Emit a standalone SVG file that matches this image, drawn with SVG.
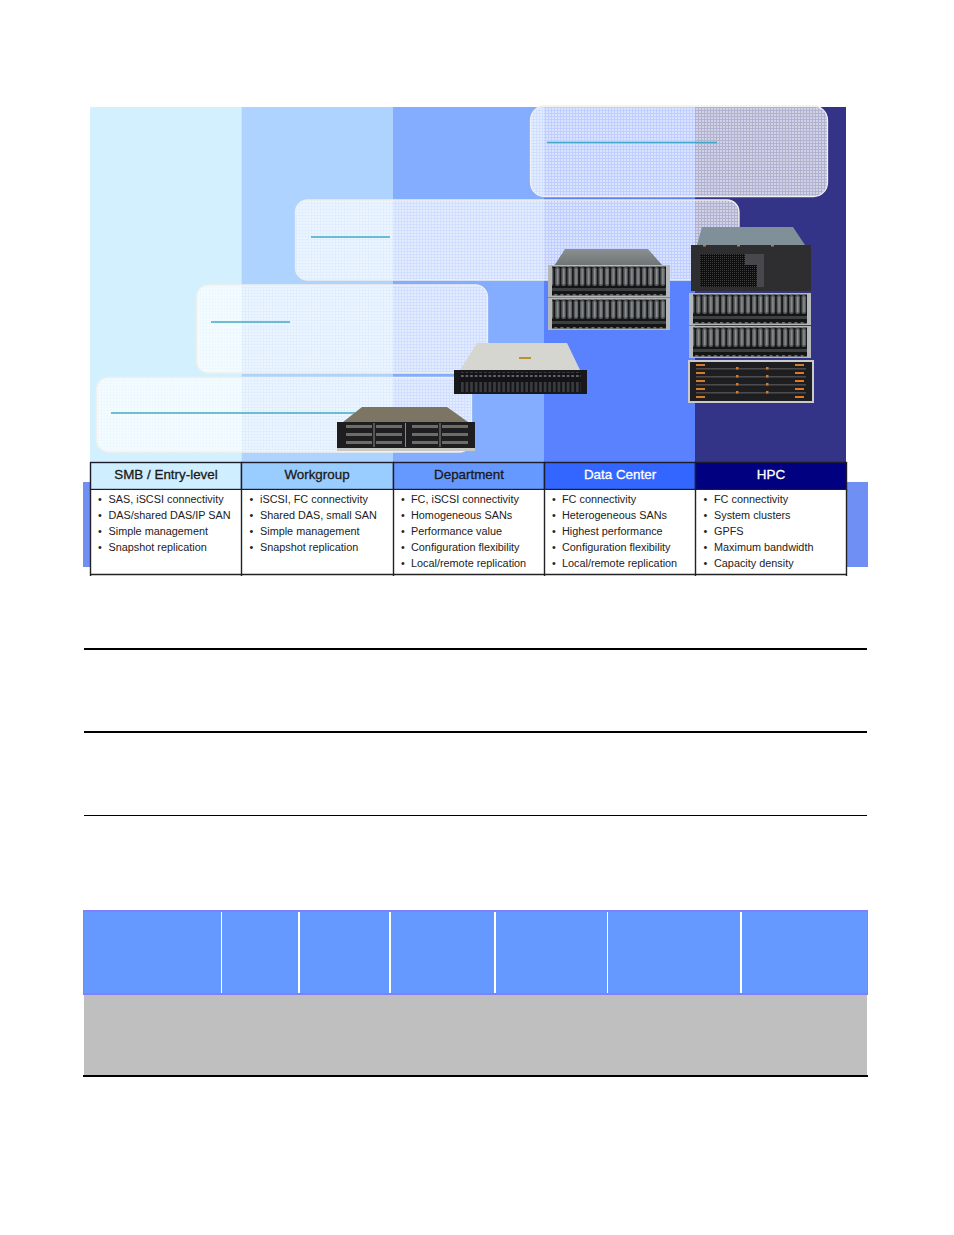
<svg xmlns="http://www.w3.org/2000/svg" width="954" height="1235" viewBox="0 0 954 1235">
<style>
text{font-family:"Liberation Sans",Arial,sans-serif;fill:#1a1a1a}
.h{font-size:13.4px;text-anchor:middle;stroke:#1a1a1a;stroke-width:.3}
.hw{font-size:13.4px;text-anchor:middle;fill:#fff;stroke:#fff;stroke-width:.3}
.b{font-size:10.85px;fill:#222}
.panel{fill:url(#dots);stroke:#f0f0ea;stroke-width:1.3}
.rule{stroke:#000;fill:none}
.teal{stroke:#42a9c4;stroke-width:1.6}
.bl{stroke:#222;stroke-width:1.4}
.div{stroke:#fff}
.cell{stroke:#1c1c2c;stroke-width:1.4}
</style>
<defs>
<pattern id="dots" width="3" height="3" patternUnits="userSpaceOnUse">
<rect width="3" height="3" fill="#fff" fill-opacity=".62"/>
<rect width="2" height="2" fill="#fff" fill-opacity=".42"/>
</pattern>
<pattern id="bays" width="6.2" height="29" patternUnits="userSpaceOnUse">
<rect width="6.2" height="29" fill="#141616"/>
<rect x="1" y="2" width="4.4" height="19" rx="2.200" fill="#5e6264"/>
<rect x="2.600" y="4" width="1.400" height="15" fill="#8c9090"/>
<rect x="0" y="23" width="6.200" height="3" fill="#3c4040"/>
<rect x="0" y="0" width="3" height="1.500" fill="#6a6e6e"/>
</pattern>
<pattern id="small" width="4.6" height="20" patternUnits="userSpaceOnUse">
<rect width="4.6" height="20" fill="#141418"/>
<rect x="1" y="2" width="2.600" height="11" fill="#3a3c40"/>
<rect x="1" y="15" width="2.600" height="2" fill="#666"/>
</pattern>
<pattern id="mesh" width="2" height="2" patternUnits="userSpaceOnUse">
<rect width="2" height="2" fill="#0e0e0e"/>
<rect width="1" height="1" fill="#3e3e3e"/>
</pattern>
<linearGradient id="roofGrey" x1="0" y1="0" x2="0" y2="1">
<stop offset="0" stop-color="#8a9090"/><stop offset="1" stop-color="#6e7474"/>
</linearGradient>
<g id="unit">
<rect width="122" height="32" fill="#b4b8b8"/>
<rect x="4" y="1.500" width="114" height="29" fill="url(#bays)"/>
</g>
</defs>

<g id="background-columns">
<rect x="83" y="482" width="8" height="85" fill="#6f8ff5"/>
<rect x="846" y="482" width="22" height="85" fill="#6f8ff5"/>
<rect x="90" y="107" width="151.500" height="355" fill="#d3f0ff"/>
<rect x="241.500" y="107" width="151.500" height="355" fill="#aed3ff"/>
<rect x="393" y="107" width="151" height="355" fill="#84acff"/>
<rect x="544" y="107" width="151" height="355" fill="#5a82ff"/>
<rect x="695" y="107" width="151" height="355" fill="#333388"/>
</g>

<g id="panel-smb"><rect class="panel" x="96.500" y="377.500" width="375" height="74.500" rx="12"/></g>
<g id="panel-workgroup"><rect class="panel" x="196.500" y="285" width="291" height="88" rx="12"/></g>
<g id="panel-department"><rect class="panel" x="295.500" y="200" width="443.500" height="80" rx="12"/></g>
<g id="panel-datacenter"><rect class="panel" x="530.500" y="106" width="297" height="90.500" rx="14"/></g>

<g id="connectors">
<line class="teal" x1="111" y1="413" x2="355" y2="413"/>
<line class="teal" x1="211" y1="322" x2="290" y2="322"/>
<line class="teal" x1="311" y1="237" x2="390" y2="237"/>
<line class="teal" x1="547" y1="142.500" x2="717" y2="142.500" stroke-width="1"/>
</g>

<g id="server-smb">
<polygon points="362,407 447,407 468,422 343,422" fill="#7d7564"/>
<rect x="337" y="422" width="138" height="26" fill="#1e1e20"/>
<rect x="337" y="448" width="138" height="3" fill="#c8c8c4"/>
<g fill="#6e6c66">
<rect x="346" y="425" width="26" height="3"/><rect x="376" y="425" width="26" height="3"/><rect x="412" y="425" width="26" height="3"/><rect x="442" y="425" width="26" height="3"/>
<rect x="346" y="433" width="26" height="3"/><rect x="376" y="433" width="26" height="3"/><rect x="412" y="433" width="26" height="3"/><rect x="442" y="433" width="26" height="3"/>
<rect x="346" y="441" width="26" height="3"/><rect x="376" y="441" width="26" height="3"/><rect x="412" y="441" width="26" height="3"/><rect x="442" y="441" width="26" height="3"/>
</g>
<g fill="#8a8a86"><rect x="373.500" y="423" width="1" height="24"/><rect x="405" y="423" width="1" height="24"/><rect x="439.500" y="423" width="1" height="24"/></g>
</g>

<g id="server-workgroup">
<polygon points="477,343 567,343 580,370 460,370" fill="#d6d6d0"/>
<rect x="519" y="357" width="12" height="2" fill="#c09030"/>
<rect x="454" y="370" width="133" height="24" fill="#18181c"/>
<rect x="459" y="372" width="122" height="20" fill="url(#small)"/>
</g>

<g id="server-datacenter">
<polygon points="565,249 648,249 663,266 554,266" fill="url(#roofGrey)"/>
<use href="#unit" x="548" y="265"/>
<use href="#unit" x="548" y="298"/>
</g>

<g id="server-hpc">
<polygon points="702,227 793,227 805,245 697,245" fill="#7f9098"/>
<rect x="691" y="245" width="120" height="46" fill="#2e2e30"/>
<rect x="700" y="254" width="57" height="33" fill="url(#mesh)"/>
<path d="M745 254H764V287H757V265H745Z" fill="#48484c"/>
<g fill="#c87830"><rect x="703" y="245" width="3" height="1.500"/><rect x="737" y="245" width="3" height="1.500"/><rect x="771" y="245" width="3" height="1.500"/></g>
<use href="#unit" x="689" y="293"/>
<use href="#unit" x="689" y="326"/>
<rect x="688" y="360" width="126" height="43" fill="#c8cacb"/>
<rect x="690" y="362" width="122" height="39" fill="#1e1e20"/>
<g fill="#4c4c4e"><rect x="696" y="368" width="110" height="1.500"/><rect x="696" y="376" width="110" height="1.500"/><rect x="696" y="384" width="110" height="1.500"/><rect x="696" y="392" width="110" height="1.500"/></g>
<g fill="#d87a28">
<rect x="696" y="364" width="9" height="2"/><rect x="795" y="364" width="9" height="2"/>
<rect x="696" y="372" width="9" height="2"/><rect x="795" y="372" width="9" height="2"/>
<rect x="696" y="380" width="9" height="2"/><rect x="795" y="380" width="9" height="2"/>
<rect x="696" y="388" width="9" height="2"/><rect x="795" y="388" width="9" height="2"/>
<rect x="696" y="396" width="9" height="2"/><rect x="795" y="396" width="9" height="2"/>
<rect x="736" y="367" width="2.500" height="2.500"/><rect x="766" y="367" width="2.500" height="2.500"/>
<rect x="736" y="375" width="2.500" height="2.500"/><rect x="766" y="375" width="2.500" height="2.500"/>
<rect x="736" y="383" width="2.500" height="2.500"/><rect x="766" y="383" width="2.500" height="2.500"/>
<rect x="736" y="391" width="2.500" height="2.500"/><rect x="766" y="391" width="2.500" height="2.500"/>
</g>
</g>

<g id="col-smb">
<rect class="cell" x="90.500" y="462.500" width="151" height="27" fill="#cfeeff"/>
<text class="h" x="166" y="479">SMB / Entry-level</text>
<rect x="91" y="490" width="150" height="84" fill="#fff"/>
<text class="b" x="98" y="503">•</text><text class="b" x="108.500" y="503">SAS, iSCSI connectivity</text>
<text class="b" x="98" y="519">•</text><text class="b" x="108.500" y="519">DAS/shared DAS/IP SAN</text>
<text class="b" x="98" y="535">•</text><text class="b" x="108.500" y="535">Simple management</text>
<text class="b" x="98" y="551">•</text><text class="b" x="108.500" y="551">Snapshot replication</text>
</g>
<g id="col-workgroup">
<rect class="cell" x="241.500" y="462.500" width="152" height="27" fill="#99ccff"/>
<text class="h" x="317" y="479">Workgroup</text>
<rect x="242" y="490" width="151" height="84" fill="#fff"/>
<text class="b" x="249.500" y="503">•</text><text class="b" x="260" y="503">iSCSI, FC connectivity</text>
<text class="b" x="249.500" y="519">•</text><text class="b" x="260" y="519">Shared DAS, small SAN</text>
<text class="b" x="249.500" y="535">•</text><text class="b" x="260" y="535">Simple management</text>
<text class="b" x="249.500" y="551">•</text><text class="b" x="260" y="551">Snapshot replication</text>
</g>
<g id="col-department">
<rect class="cell" x="393.500" y="462.500" width="151" height="27" fill="#6699ff"/>
<text class="h" x="469" y="479">Department</text>
<rect x="394" y="490" width="150" height="84" fill="#fff"/>
<text class="b" x="401" y="503">•</text><text class="b" x="411" y="503">FC, iSCSI connectivity</text>
<text class="b" x="401" y="519">•</text><text class="b" x="411" y="519">Homogeneous SANs</text>
<text class="b" x="401" y="535">•</text><text class="b" x="411" y="535">Performance value</text>
<text class="b" x="401" y="551">•</text><text class="b" x="411" y="551">Configuration flexibility</text>
<text class="b" x="401" y="567">•</text><text class="b" x="411" y="567">Local/remote replication</text>
</g>
<g id="col-datacenter">
<rect class="cell" x="544.500" y="462.500" width="151" height="27" fill="#3366ff"/>
<text class="hw" x="620" y="479">Data Center</text>
<rect x="545" y="490" width="150" height="84" fill="#fff"/>
<text class="b" x="552" y="503">•</text><text class="b" x="562" y="503">FC connectivity</text>
<text class="b" x="552" y="519">•</text><text class="b" x="562" y="519">Heterogeneous SANs</text>
<text class="b" x="552" y="535">•</text><text class="b" x="562" y="535">Highest performance</text>
<text class="b" x="552" y="551">•</text><text class="b" x="562" y="551">Configuration flexibility</text>
<text class="b" x="552" y="567">•</text><text class="b" x="562" y="567">Local/remote replication</text>
</g>
<g id="col-hpc">
<rect class="cell" x="695.500" y="462.500" width="151" height="27" fill="#000080"/>
<text class="hw" x="771" y="479">HPC</text>
<rect x="696" y="490" width="150" height="84" fill="#fff"/>
<text class="b" x="703.500" y="503">•</text><text class="b" x="714" y="503">FC connectivity</text>
<text class="b" x="703.500" y="519">•</text><text class="b" x="714" y="519">System clusters</text>
<text class="b" x="703.500" y="535">•</text><text class="b" x="714" y="535">GPFS</text>
<text class="b" x="703.500" y="551">•</text><text class="b" x="714" y="551">Maximum bandwidth</text>
<text class="b" x="703.500" y="567">•</text><text class="b" x="714" y="567">Capacity density</text>
</g>
<g id="table-lines">
<path class="bl" d="M90.500 489.500V576M241.500 489.500V576M393.500 489.500V576M544.500 489.500V576M695.500 489.500V576M846.500 489.500V576"/>
<path class="bl" d="M90 574.500H847"/>
</g>

<g id="rules">
<line class="rule" x1="84" y1="649" x2="867" y2="649" stroke-width="2"/>
<line class="rule" x1="84" y1="732" x2="867" y2="732" stroke-width="2"/>
<line class="rule" x1="84" y1="815.500" x2="867" y2="815.500" stroke-width="1"/>
</g>

<g id="lower-table">
<rect x="84" y="994" width="783" height="81" fill="#bfbfbf"/>
<rect x="83" y="910" width="785" height="85" fill="#8080ff"/>
<rect x="84" y="912" width="783" height="81" fill="#6699ff"/>
<g class="div">
<line x1="221.500" y1="912" x2="221.500" y2="993" stroke-width="1"/>
<line x1="299" y1="912" x2="299" y2="993" stroke-width="2"/>
<line x1="390" y1="912" x2="390" y2="993" stroke-width="2"/>
<line x1="495" y1="912" x2="495" y2="993" stroke-width="2"/>
<line x1="607.500" y1="912" x2="607.500" y2="993" stroke-width="1"/>
<line x1="741" y1="912" x2="741" y2="993" stroke-width="2"/>
</g>
<rect x="83" y="1075" width="785" height="2" fill="#000"/>
</g>
</svg>
